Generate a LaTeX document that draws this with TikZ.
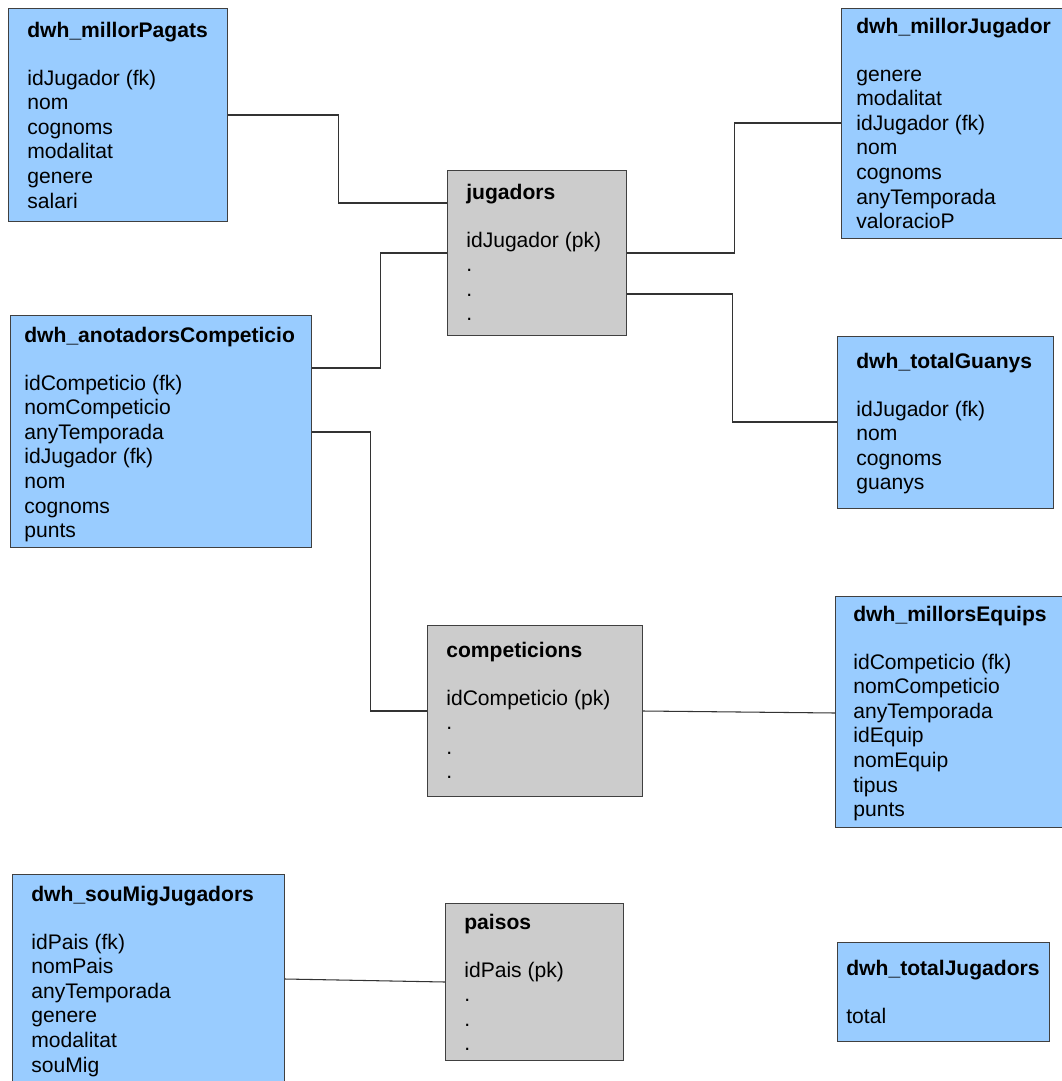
\documentclass[tikz,border=0pt]{standalone}
\usepackage{fontspec}
\setmainfont{Liberation Sans}
\definecolor{dwhblue}{RGB}{153,204,255}
\definecolor{srcgray}{RGB}{204,204,204}

\begin{document}
\begin{tikzpicture}[x=0.02cm,y=-0.02cm,
  dims/.style 2 args={minimum width=#1*0.02cm,minimum height=#2*0.02cm},
  dwhbox/.style={draw=black!75,line width=0.6pt,fill=dwhblue,anchor=north west,inner sep=0pt},
  srcbox/.style={draw=black!75,line width=0.6pt,fill=srcgray,anchor=north west,inner sep=0pt},
  fields/.style={anchor=north west,inner sep=0pt,align=left,font=\fontsize{12}{14}\selectfont},
  link/.style={draw=black!80,line width=0.6pt}]

\useasboundingbox (0,0) rectangle (1061,1081);

% taules del magatzem
\node[dwhbox,dims={219}{213}] (pagats) at (8,8) {};
\node[fields] (pagats-t) at (27,22) {\textbf{dwh\_millorPagats}\\[13pt]
  idJugador (fk)\\nom\\cognoms\\modalitat\\genere\\salari};

\node[dwhbox,dims={222}{230}] (millor) at (841,8) {};
\node[fields] (millor-t) at (856,18) {\textbf{dwh\_millorJugador}\\[13pt]
  genere\\modalitat\\idJugador (fk)\\nom\\cognoms\\anyTemporada\\valoracioP};

\node[dwhbox,dims={301}{232}] (anot) at (10,315) {};
\node[fields] (anot-t) at (24,327) {\textbf{dwh\_anotadorsCompeticio}\\[13pt]
  idCompeticio (fk)\\nomCompeticio\\anyTemporada\\idJugador (fk)\\nom\\cognoms\\punts};

\node[dwhbox,dims={216}{172}] (guanys) at (837,336) {};
\node[fields] (guanys-t) at (856,353) {\textbf{dwh\_totalGuanys}\\[13pt]
  idJugador (fk)\\nom\\cognoms\\guanys};

\node[dwhbox,dims={228}{231}] (equips) at (835,596) {};
\node[fields] (equips-t) at (853,606) {\textbf{dwh\_millorsEquips}\\[13pt]
  idCompeticio (fk)\\nomCompeticio\\anyTemporada\\idEquip\\nomEquip\\tipus\\punts};

\node[dwhbox,dims={272}{212}] (sou) at (12,874) {};
\node[fields] (sou-t) at (31,886) {\textbf{dwh\_souMigJugadors}\\[13pt]
  idPais (fk)\\nomPais\\anyTemporada\\genere\\modalitat\\souMig};

\node[dwhbox,dims={212}{99}] (total) at (837,942) {};
\node[fields] (total-t) at (846,960) {\textbf{dwh\_totalJugadors}\\[13pt]
  total};

% taules origen
\node[srcbox,dims={179}{165}] (jug) at (447,170) {};
\node[fields] (jug-t) at (466,184) {\textbf{jugadors}\\[13pt]
  idJugador (pk)\\.\\.\\.};

\node[srcbox,dims={215}{171}] (comp) at (427,625) {};
\node[fields] (comp-t) at (446,642) {\textbf{competicions}\\[13pt]
  idCompeticio (pk)\\.\\.\\.};

\node[srcbox,dims={178}{157}] (pais) at (445,903) {};
\node[fields] (pais-t) at (464,914) {\textbf{paisos}\\[13pt]
  idPais (pk)\\.\\.\\.};

% relacions
\draw[link] ([shift={(0,107)}]pagats.north east) -- ++(110,0) |- ([shift={(0,33)}]jug.north west);
\draw[link] ([shift={(0,53)}]anot.north east) -- ++(68,0) |- ([shift={(0,83)}]jug.north west);
\draw[link] ([shift={(0,83)}]jug.north east) -- ++(107,0) |- ([shift={(0,115)}]millor.north west);
\draw[link] ([shift={(0,124)}]jug.north east) -- ++(105,0) |- ([shift={(0,86)}]guanys.north west);
\draw[link] ([shift={(0,117)}]anot.north east) -- ++(58,0) |- ([shift={(0,86)}]comp.north west);
\draw[link] ([shift={(0,86)}]comp.north east) -- ([shift={(0,117)}]equips.north west);
\draw[link] ([shift={(0,105)}]sou.north east) -- ([shift={(0,79)}]pais.north west);

\end{tikzpicture}
\end{document}
